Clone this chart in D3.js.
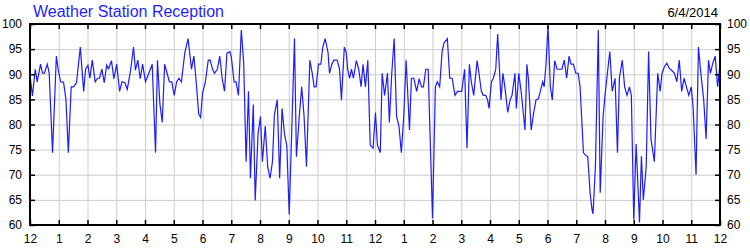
<!DOCTYPE html>
<html>
<head>
<meta charset="utf-8">
<script src="https://d3js.org/d3.v7.min.js"></script>
<style>
  body { margin: 0; background: #fff; }
  #graph text { font-family: "Liberation Sans", Arial, sans-serif; }
  .grid line { stroke: #cccccc; stroke-width: 1; }
  .grid path { display: none; }
  .axis path { display: none; }
  .axis line { stroke: #000; stroke-width: 1.5; }
  .axis text { font-size: 12px; fill: #000; }
  .line { fill: none; stroke: #1c1cff; stroke-width: 1.2; }
</style>
</head>
<body>
<div id="graph"></div>
<script>
// reception samples, minutes after midnight
var minutes = [
  0, 5, 11, 15, 22, 26, 30, 36, 40, 47, 55, 59, 64, 70, 75, 80, 86, 91, 97, 105,
  112, 116, 121, 125, 130, 136, 141, 145, 150, 155, 160, 164, 170, 175, 181, 187, 192, 198, 203,
  210, 216, 220, 225, 230, 235, 241, 248, 255, 262, 266, 271, 276, 281, 286, 291, 296, 301,
  306, 311, 316, 323, 330, 337, 342, 347, 352, 356, 360, 366, 372, 376, 381, 385, 391, 396,
  401, 406, 411,
  417, 420, 426, 430, 435, 441, 446, 451, 456, 460, 466, 470, 476, 481, 485, 491, 496, 501,
  506, 510, 516, 521, 526, 531, 536, 541, 552, 556, 562, 567, 572, 577, 584, 589, 593, 597,
  602, 607, 611, 616, 622,
  625, 630, 634, 641, 646, 650, 656, 660, 663, 667, 671, 675, 681, 686, 691, 695, 700, 705,
  710, 716, 721, 725, 731, 735, 740, 746, 750, 755, 760, 765, 770, 775, 780, 785, 792, 796,
  801, 807, 812, 817, 821, 826, 831,
  840, 846, 850, 855, 860, 864, 871, 876, 881, 887, 892, 897, 901, 907, 912, 917, 921, 926,
  933, 937, 942, 946, 951, 955, 958, 963, 967, 972, 976, 983, 987, 991, 997, 1002, 1006,
  1012, 1015, 1020, 1025, 1033, 1037, 1040,
  1042, 1046, 1051, 1056, 1061, 1065, 1070, 1073, 1077, 1081, 1086, 1090, 1095, 1100, 1105,
  1110, 1115, 1120, 1125, 1129, 1134, 1139, 1144, 1148, 1155, 1159, 1164, 1169, 1173, 1175,
  1180, 1186, 1190, 1196, 1200, 1205, 1210, 1215, 1221, 1226, 1230, 1236, 1241, 1246,
  1251, 1255, 1260, 1265, 1272, 1276, 1280, 1286, 1291, 1296, 1303, 1310, 1315, 1319, 1324,
  1329, 1334, 1339, 1345, 1350, 1355, 1360, 1365, 1370, 1375, 1380, 1384, 1390, 1395, 1400,
  1406, 1411, 1416, 1420, 1425, 1430, 1435, 1440
];

var reception = [
  89.9, 85.7, 91.0, 88.5, 92.0, 90.2, 90.2, 92.0, 90.3, 74.4, 93.6, 90.8, 88.5, 88.4, 85.0, 74.4, 87.5, 87.5, 88.3, 95.4,
  86.6, 91.0, 91.8, 89.2, 92.8, 88.5, 89.2, 89.2, 91.0, 88.3, 91.8, 91.1, 92.7, 89.1, 92.0, 86.6, 88.5, 88.3, 87.0,
  90.8, 95.4, 90.8, 92.8, 89.1, 92.0, 88.5, 90.2, 92.0, 74.4, 92.8, 84.2, 80.4, 92.0, 90.2, 88.5, 88.5, 85.8,
  88.5, 89.2, 88.5, 94.2, 97.1, 91.0, 93.6, 88.3, 82.1, 81.4, 86.2, 88.5, 92.8, 92.8, 91.0, 90.2, 91.0, 93.6,
  89.2, 86.6, 94.2,
  94.5, 93.5, 88.5, 88.5, 85.8, 98.8, 92.2, 72.6, 86.6, 69.3, 84.0, 64.9, 78.2, 81.6, 72.6, 79.7, 71.6, 69.3,
  72.6, 81.9, 84.9, 69.3, 83.2, 78.2, 75.7, 62.1, 97.1, 73.6, 81.6, 87.5, 81.6, 71.6, 92.8, 90.2, 87.5, 87.5,
  92.0, 92.0, 95.4, 97.1, 94.3,
  90.2, 92.0, 92.8, 92.8, 91.0, 84.9, 95.4, 94.3, 91.0, 89.2, 91.0, 89.2, 92.7, 91.0, 87.5, 92.0, 87.5, 92.8,
  75.9, 75.3, 82.4, 75.9, 74.4, 90.2, 85.8, 90.2, 80.4, 90.2, 97.1, 81.6, 79.7, 74.4, 81.6, 92.8, 78.9, 89.2,
  89.2, 86.6, 89.1, 87.5, 87.5, 91.0, 91.0,
  61.3, 87.5, 88.5, 87.5, 94.5, 96.2, 97.1, 89.2, 89.2, 85.8, 86.6, 86.6, 86.6, 91.0, 75.3, 92.0, 88.5, 85.8,
  92.7, 90.2, 86.6, 85.8, 85.8, 84.9, 83.2, 88.5, 89.2, 91.0, 98.0, 84.9, 90.2, 87.5, 82.4, 84.9, 85.8,
  90.2, 83.2, 90.2, 86.6, 78.9, 92.0, 89.2,
  85.8, 78.9, 82.2, 84.9, 85.1, 86.6, 88.5, 87.5, 92.2, 99.6, 87.5, 84.9, 92.7, 91.0, 91.0,
  91.0, 92.8, 89.2, 93.6, 92.0, 92.0, 90.2, 90.2, 87.5, 74.4, 73.9, 73.6, 66.3, 63.0, 62.2,
  71.6, 98.8, 66.4, 81.6, 85.8, 90.2, 94.5, 86.6, 89.2, 74.4, 89.2, 92.8, 87.5, 85.8,
  87.5, 85.8, 61.1, 76.1, 60.5, 73.7, 65.0, 71.6, 94.5, 77.1, 72.6, 90.2, 86.6, 90.2, 91.5,
  92.2, 91.2, 90.8, 90.2, 88.5, 92.8, 86.6, 89.2, 87.5, 85.8, 87.5, 83.2, 70.0, 95.4, 90.2,
  84.9, 77.1, 92.8, 90.2, 92.2, 93.6, 87.5, 91.8
];

var hourTicks = d3.range(0, 1441, 60);
var hourLabels = ["12", "1", "2", "3", "4", "5", "6", "7", "8", "9", "10", "11",
                  "12", "1", "2", "3", "4", "5", "6", "7", "8", "9", "10", "11", "12"];
var valueTicks = [60, 65, 70, 75, 80, 85, 90, 95, 100];

var title = "Weather Station Reception";
var dateText = "6/4/2014";

var W = 750, H = 250;
var margin = { top: 24, right: 30, bottom: 25, left: 30 },
  width = W - margin.left - margin.right,
  height = H - margin.top - margin.bottom;

var data = minutes.map(function(m, i) {
  return { t: m, v: reception[i] };
});

var x = d3.scaleLinear().domain([0, 1440]).range([0, width]);
var y = d3.scaleLinear().domain([60, 100]).range([height, 0]);

var svg = d3
  .select("#graph")
  .append("svg")
  .attr("width", W)
  .attr("height", H);

svg
  .append("text")
  .attr("x", 33)
  .attr("y", 17)
  .style("font-size", "16px")
  .style("fill", "#1f1fff")
  .text(title);

svg
  .append("text")
  .attr("x", 718)
  .attr("y", 17)
  .style("text-anchor", "end")
  .style("font-size", "13px")
  .style("fill", "#000")
  .text(dateText);

var g = svg
  .append("g")
  .attr("transform", "translate(" + margin.left + "," + margin.top + ")");

// grid lines
g.append("g")
  .attr("class", "grid")
  .call(d3.axisBottom(x).tickValues(hourTicks).tickSize(height).tickFormat(""));

g.append("g")
  .attr("class", "grid")
  .call(d3.axisLeft(y).tickValues(valueTicks).tickSize(-width).tickFormat(""));

// the signal line
var valueline = d3
  .line()
  .x(function(d) { return x(d.t); })
  .y(function(d) { return y(d.v); });

g.append("path")
  .datum(data)
  .attr("class", "line")
  .attr("d", valueline);

// axes, ticks pointing inward
g.append("g")
  .attr("class", "axis")
  .attr("transform", "translate(0," + height + ")")
  .call(
    d3.axisBottom(x)
      .tickValues(hourTicks)
      .tickSize(-5)
      .tickPadding(9)
      .tickFormat(function(d, i) { return hourLabels[i]; })
  );

g.append("g")
  .attr("class", "axis")
  .call(d3.axisTop(x).tickValues(hourTicks).tickSize(-5).tickFormat(""));

g.append("g")
  .attr("class", "axis")
  .call(d3.axisLeft(y).tickValues(valueTicks).tickSize(-5).tickPadding(8));

g.append("g")
  .attr("class", "axis")
  .attr("transform", "translate(" + width + ",0)")
  .call(d3.axisRight(y).tickValues(valueTicks).tickSize(-5).tickPadding(7));

// frame
g.append("rect")
  .attr("width", width)
  .attr("height", height)
  .style("fill", "none")
  .style("stroke", "#000")
  .style("stroke-width", 2);
</script>
</body>
</html>
